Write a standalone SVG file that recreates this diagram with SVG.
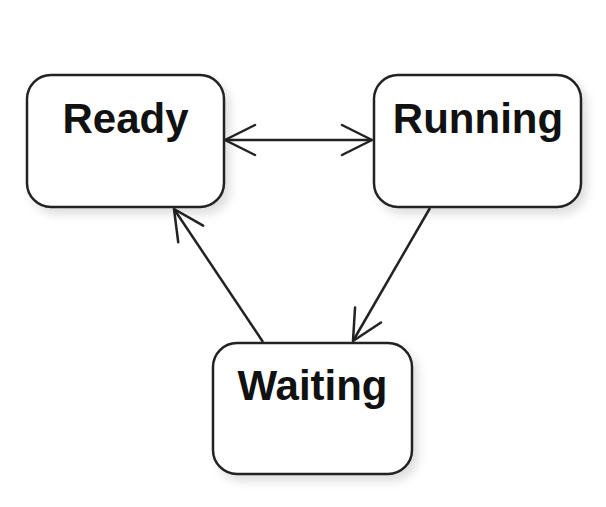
<svg xmlns="http://www.w3.org/2000/svg" width="606" height="507" viewBox="0 0 606 507">
<style>
.box{fill:#fff;stroke:#222;stroke-width:2.5;filter:url(#sh)}
.lbl{font-family:"Liberation Sans",Arial,sans-serif;font-weight:bold;font-size:42px;fill:#111;text-anchor:middle}
.edge{fill:none;stroke:#222;stroke-width:2.5}
</style>
<defs>
<filter id="sh" x="-20%" y="-20%" width="150%" height="150%">
<feDropShadow dx="5" dy="6" stdDeviation="5" flood-color="#000" flood-opacity="0.13"/>
</filter>
<marker id="open" markerUnits="userSpaceOnUse" markerWidth="40" markerHeight="40" viewBox="-34 -20 40 40" refX="0" refY="0" orient="auto-start-reverse">
<path d="M-30,-15 L0,0 L-30,15" fill="none" stroke="#222" stroke-width="2.5" stroke-linejoin="round" stroke-linecap="round"/>
</marker>
</defs>
<rect width="606" height="507" fill="#fff"/>
<g id="connectors">
<line class="edge" x1="225" y1="140" x2="372" y2="140" marker-start="url(#open)" marker-end="url(#open)"/>
<line class="edge" x1="263" y1="342" x2="174" y2="209" marker-end="url(#open)"/>
<line class="edge" x1="430" y1="208" x2="353" y2="341" marker-end="url(#open)"/>
</g>
<g id="ready">
<rect class="box" x="27" y="75" width="197" height="132" rx="24"/>
<text class="lbl" x="125.5" y="133">Ready</text>
</g>
<g id="running">
<rect class="box" x="374" y="75" width="207" height="132" rx="24"/>
<text class="lbl" x="478" y="133">Running</text>
</g>
<g id="waiting">
<rect class="box" x="213" y="343" width="199" height="131" rx="24"/>
<text class="lbl" x="312.5" y="400">Waiting</text>
</g>
</svg>
